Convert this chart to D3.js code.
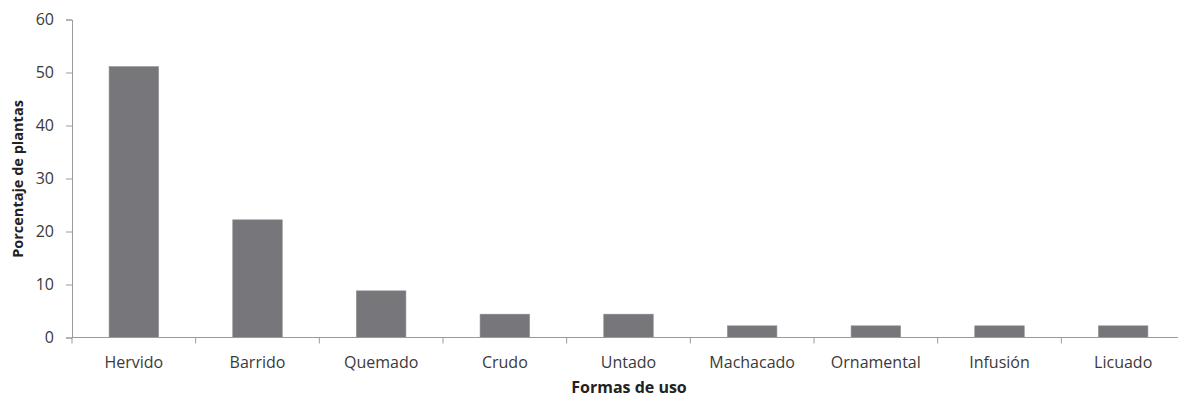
<!DOCTYPE html>
<html>
<head>
<meta charset="utf-8">
<script src="https://cdn.jsdelivr.net/npm/d3@7"></script>
<style>
  html, body { margin: 0; padding: 0; background: #ffffff; }
  svg { display: block; }
  .axis text { font-family: "Open Sans", sans-serif; font-size: 16px; fill: #3a3a3a; }
  .axis path, .axis line { stroke: #9a9a9a; stroke-width: 1; }
  .title { font-family: "Open Sans", sans-serif; font-weight: bold; fill: #222; }
</style>
</head>
<body>
<svg id="chart" width="1178" height="399"></svg>
<script>
// Forms of use and the share of plants for each
const categories = ["Hervido", "Barrido", "Quemado", "Crudo", "Untado", "Machacado", "Ornamental", "Infusión", "Licuado"];
const values = [51.1, 22.2, 8.8, 4.4, 4.4, 2.2, 2.2, 2.2, 2.2];
const yTicks = [0, 10, 20, 30, 40, 50, 60];

const svg = d3.select("#chart");
const plotLeft = 72, plotRight = 1185, plotTop = 19.5, plotBottom = 337.5;

const x = d3.scaleBand()
  .domain(categories)
  .range([plotLeft, plotRight])
  .paddingInner(0.6)
  .paddingOuter(0.3);

const y = d3.scaleLinear().domain([0, 60]).range([plotBottom, plotTop]);

// Bars
svg.append("g")
  .selectAll("rect")
  .data(categories)
  .join("rect")
  .attr("x", d => x(d))
  .attr("width", x.bandwidth())
  .attr("y", (d, i) => y(values[i]))
  .attr("height", (d, i) => y(0) - y(values[i]))
  .attr("fill", "#77777b")
  .attr("stroke", "#8a8a8e")
  .attr("stroke-width", 0.6);

// Y axis
svg.append("g")
  .attr("class", "axis")
  .attr("transform", `translate(${plotLeft},0)`)
  .call(d3.axisLeft(y).tickValues(yTicks).tickSize(6).tickPadding(12).tickFormat(d3.format("d")));

// X axis: line with boundary ticks between categories
const xAxis = svg.append("g")
  .attr("class", "axis")
  .attr("transform", `translate(0,${plotBottom})`);

xAxis.append("line")
  .attr("x1", plotLeft).attr("x2", plotRight)
  .attr("y1", 0).attr("y2", 0);

const step = x.step();
const boundaries = d3.range(categories.length + 1).map(i => plotLeft + i * step);
xAxis.selectAll("line.b")
  .data(boundaries)
  .join("line")
  .attr("class", "b")
  .attr("x1", d => d).attr("x2", d => d)
  .attr("y1", 0).attr("y2", 6);

xAxis.selectAll("text")
  .data(categories)
  .join("text")
  .attr("x", d => x(d) + x.bandwidth() / 2)
  .attr("y", 30)
  .attr("text-anchor", "middle")
  .text(d => d);

// Axis titles
svg.append("text")
  .attr("class", "title")
  .attr("x", 629)
  .attr("y", 393)
  .attr("text-anchor", "middle")
  .style("font-size", "16px")
  .text("Formas de uso");

svg.append("text")
  .attr("class", "title")
  .attr("transform", `translate(23,179) rotate(-90)`)
  .attr("text-anchor", "middle")
  .style("font-size", "14.5px")
  .text("Porcentaje de plantas");
</script>
</body>
</html>
